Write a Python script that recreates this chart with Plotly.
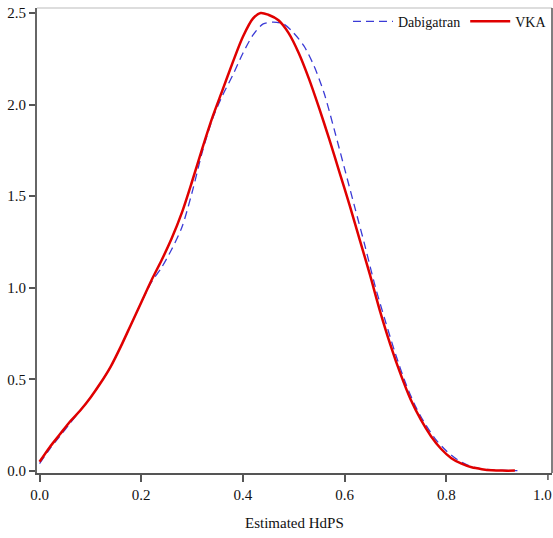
import plotly.graph_objects as go

# Kernel density of estimated HdPS
vka_x = [0.0, 0.02, 0.04, 0.06, 0.08, 0.10, 0.12, 0.14, 0.16, 0.18, 0.20, 0.22, 0.24, 0.26,
         0.28, 0.30, 0.32, 0.34, 0.36, 0.38, 0.40, 0.42, 0.435, 0.45, 0.47, 0.49, 0.51, 0.53,
         0.55, 0.57, 0.59, 0.61, 0.63, 0.65, 0.67, 0.69, 0.71, 0.73, 0.75, 0.77, 0.79, 0.81,
         0.83, 0.85, 0.87, 0.89, 0.91, 0.935]
vka_y = [0.05, 0.13, 0.20, 0.27, 0.33, 0.40, 0.48, 0.57, 0.68, 0.80, 0.92, 1.04, 1.15, 1.27,
         1.41, 1.58, 1.76, 1.93, 2.08, 2.23, 2.37, 2.47, 2.50, 2.49, 2.46, 2.39, 2.28, 2.14,
         1.98, 1.81, 1.63, 1.45, 1.26, 1.07, 0.87, 0.69, 0.53, 0.39, 0.28, 0.19, 0.12, 0.07,
         0.04, 0.02, 0.01, 0.004, 0.002, 0.002]

dabi_x = [0.0, 0.02, 0.04, 0.06, 0.08, 0.10, 0.12, 0.14, 0.16, 0.18, 0.20, 0.22, 0.24, 0.26,
          0.28, 0.30, 0.32, 0.34, 0.36, 0.38, 0.40, 0.42, 0.44, 0.46, 0.48, 0.50, 0.52, 0.54,
          0.56, 0.58, 0.60, 0.62, 0.64, 0.66, 0.68, 0.70, 0.72, 0.74, 0.76, 0.78, 0.80, 0.82,
          0.84, 0.86, 0.88, 0.90, 0.94]
dabi_y = [0.04, 0.12, 0.19, 0.26, 0.33, 0.40, 0.48, 0.57, 0.68, 0.80, 0.92, 1.03, 1.11, 1.21,
          1.33, 1.52, 1.74, 1.92, 2.05, 2.16, 2.28, 2.38, 2.44, 2.45, 2.44, 2.39, 2.32, 2.21,
          2.06, 1.86, 1.65, 1.44, 1.23, 1.01, 0.82, 0.64, 0.48, 0.35, 0.25, 0.17, 0.11, 0.065,
          0.035, 0.017, 0.008, 0.004, 0.002]

x_ticks = [0.0, 0.2, 0.4, 0.6, 0.8, 1.0]
x_tick_labels = ["0.0", "0.2", "0.4", "0.6", "0.8", "1.0"]
y_ticks = [0.0, 0.5, 1.0, 1.5, 2.0, 2.5]
y_tick_labels = ["0.0", "0.5", "1.0", "1.5", "2.0", "2.5"]

FONT = "Liberation Serif, Times New Roman, serif"

fig = go.Figure()
fig.add_trace(go.Scatter(x=dabi_x, y=dabi_y, mode="lines", name="Dabigatran",
                         line=dict(color="#3b3bd6", width=1.3, dash="8px,5px",
                                   shape="spline", smoothing=0.8)))
fig.add_trace(go.Scatter(x=vka_x, y=vka_y, mode="lines", name="VKA",
                         line=dict(color="#e00000", width=2.5, shape="spline", smoothing=0.8)))

fig.update_layout(
    width=553, height=538,
    margin=dict(l=37, r=1, t=8, b=65),
    paper_bgcolor="white", plot_bgcolor="white",
    font=dict(family=FONT, size=14, color="#111"),
    showlegend=True,
    legend=dict(orientation="h", x=1, xanchor="right", y=1.005, yanchor="top",
                bgcolor="rgba(0,0,0,0)", font=dict(family=FONT, size=14),
                itemwidth=40, tracegroupgap=0),
    xaxis=dict(range=[-0.005, 1.008], tickvals=x_ticks[:-1], ticktext=x_tick_labels[:-1],
               showgrid=False, zeroline=False, showline=True, linecolor="#555",
               linewidth=1.5, ticks="outside", ticklen=7, tickcolor="#555", tickwidth=1.5,
               tickfont=dict(family=FONT, size=15)),
    yaxis=dict(range=[-0.011, 2.527], tickvals=y_ticks, ticktext=y_tick_labels,
               showgrid=False, zeroline=False, showline=True, linecolor="#666",
               linewidth=2, ticks="outside", ticklen=6, tickcolor="#555", tickwidth=1.5,
               tickfont=dict(family=FONT, size=15)),
    annotations=[
        dict(text="Estimated HdPS", x=0.5, y=-0.1075, xref="paper", yref="paper",
             xanchor="center", yanchor="middle", showarrow=False,
             font=dict(family=FONT, size=15, color="#111")),
        # last x tick label sits at the page edge; nudged in so it stays readable
        dict(text=x_tick_labels[-1], x=x_ticks[-1], xref="x", y=-0.047, yref="paper",
             xanchor="center", yanchor="middle", showarrow=False, xshift=-5,
             font=dict(family=FONT, size=15, color="#111")),
    ],
    shapes=[
        dict(type="line", xref="paper", yref="paper", x0=0, x1=1, y0=1, y1=1,
             line=dict(color="#bbbbbb", width=1)),
        dict(type="line", xref="paper", yref="paper", x0=1, x1=1, y0=0, y1=1,
             line=dict(color="#555", width=1.5)),
        dict(type="line", xref="x", yref="paper", x0=x_ticks[-1], x1=x_ticks[-1], y0=0, y1=-0.015,
             line=dict(color="#555", width=1.5)),
    ],
)

fig.write_html("out.html")
